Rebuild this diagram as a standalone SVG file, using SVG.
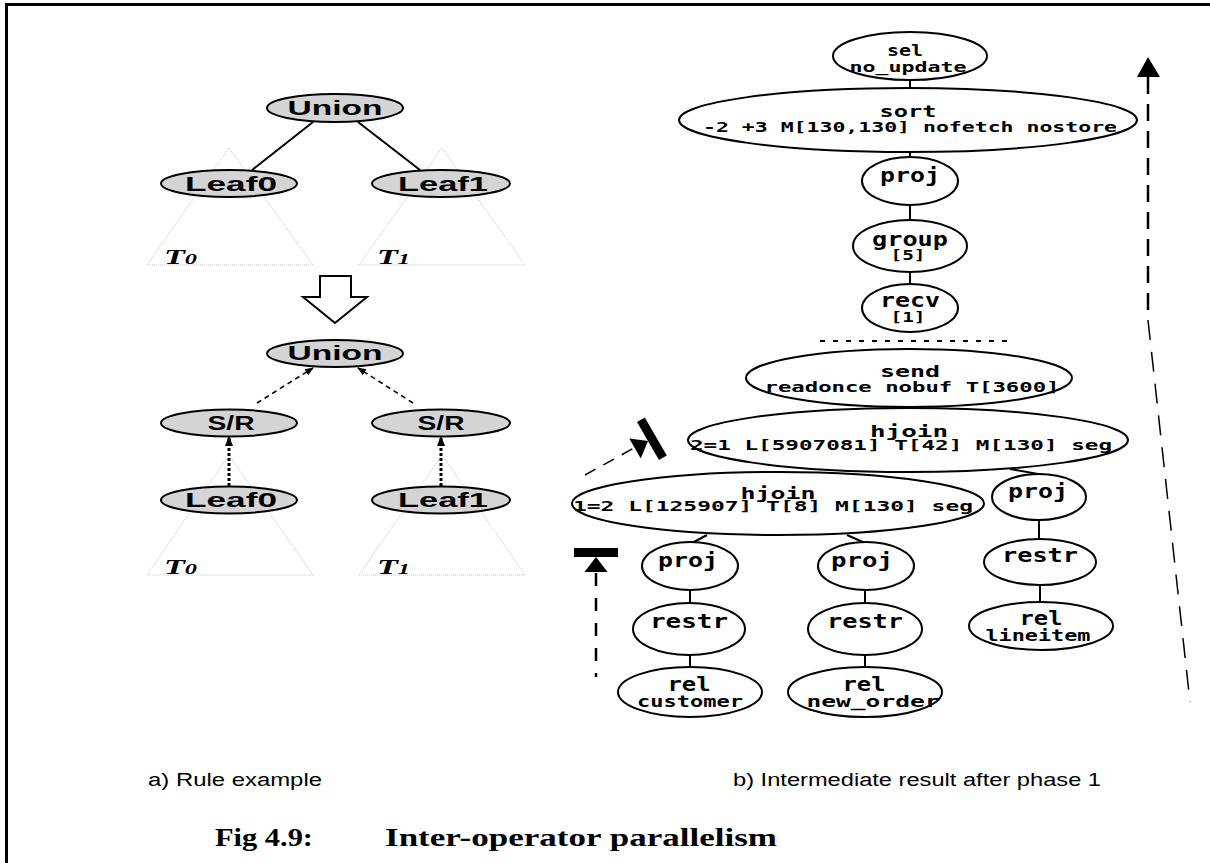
<svg xmlns="http://www.w3.org/2000/svg" xmlns:xlink="http://www.w3.org/1999/xlink" width="1210" height="863" viewBox="0 0 1210 863">
  <style>
    .frame { fill: #000; }
    .gnode { fill: #d4d4d4; stroke: #000; stroke-width: 2; }
    .glabel { font-family: "Liberation Sans", Arial, sans-serif; font-weight: bold; font-size: 21px; text-anchor: middle; fill: #000; }
    .tri { fill: none; stroke: #c8c8c8; stroke-width: 1; stroke-dasharray: 1 1; }
    .tlabel { font-family: "Liberation Serif", "Times New Roman", serif; font-weight: bold; font-style: italic; font-size: 21px; fill: #000; }
    .edge { stroke: #000; stroke-width: 2; fill: none; }
    .dash-arrow { stroke: #000; stroke-width: 1.6; stroke-dasharray: 5 4; fill: none; }
    .dot-arrow { stroke: #000; stroke-width: 3; stroke-dasharray: 3 2; fill: none; }
    .op { fill: #fff; stroke: #000; stroke-width: 2; }
    .m1 { font-family: "DejaVu Sans Mono", "Liberation Mono", monospace; font-weight: bold; font-size: 15px; text-anchor: middle; fill: #000; }
    .m2 { font-family: "DejaVu Sans Mono", "Liberation Mono", monospace; font-weight: bold; font-size: 14px; text-anchor: middle; fill: #000; }
    .mb { font-family: "DejaVu Sans Mono", "Liberation Mono", monospace; font-weight: bold; font-size: 20px; text-anchor: middle; fill: #000; }
    .caption { font-family: "Liberation Sans", Arial, sans-serif; font-size: 18px; fill: #000; }
    .title { font-family: "Liberation Serif", "Times New Roman", serif; font-weight: bold; font-size: 26px; fill: #000; }
  </style>
  <defs>
    <marker id="head" viewBox="0 0 10 10" refX="9" refY="5" markerWidth="5.5" markerHeight="5.5" orient="auto" markerUnits="strokeWidth">
      <path d="M0,1 L10,5 L0,9 Z" fill="#000"/>
    </marker>
    <marker id="head-dot" viewBox="0 0 10 10" refX="9" refY="5" markerWidth="3.4" markerHeight="3.4" orient="auto" markerUnits="strokeWidth">
      <path d="M0,1 L10,5 L0,9 Z" fill="#000"/>
    </marker>
    <!-- barrier marker: thick bar with an arrowhead pointing into it -->
    <g id="barrier">
      <rect x="-22" y="-9" width="44" height="9" fill="#000"/>
      <path d="M0,0 L-11.5,15 L11.5,15 Z" fill="#000"/>
    </g>
  </defs>

  <!-- page frame (top and left rules) -->
  <g id="frame">
    <rect class="frame" x="5" y="3" width="1205" height="3"/>
    <rect class="frame" x="5" y="3" width="3" height="860"/>
  </g>

  <!-- subtree triangles -->
  <g id="subtrees">
    <path class="tri" d="M229,148 L147,265 L313,265 Z"/>
    <path class="tri" d="M442,148 L359,265 L525,265 Z"/>
    <path class="tri" d="M229,455 L147,575 L313,575 Z"/>
    <path class="tri" d="M442,455 L359,575 L525,575 Z"/>
    <text class="tlabel" x="164" y="264" textLength="33" lengthAdjust="spacingAndGlyphs">T<tspan font-size="15">0</tspan></text>
    <text class="tlabel" x="377" y="264" textLength="33" lengthAdjust="spacingAndGlyphs">T<tspan font-size="15">1</tspan></text>
    <text class="tlabel" x="164" y="574" textLength="33" lengthAdjust="spacingAndGlyphs">T<tspan font-size="15">0</tspan></text>
    <text class="tlabel" x="377" y="574" textLength="33" lengthAdjust="spacingAndGlyphs">T<tspan font-size="15">1</tspan></text>
  </g>

  <!-- transformation arrow -->
  <g id="rewrite-arrow">
    <path d="M320,276 L351,276 L351,297 L367,297 L335,323 L303,297 L320,297 Z" fill="#fff" stroke="#000" stroke-width="2"/>
  </g>

  <g id="connectors">
    <!-- rule example, before -->
    <line class="edge" x1="313" y1="122" x2="252" y2="170"/>
    <line class="edge" x1="358" y1="122" x2="420" y2="170"/>
    <!-- rule example, after -->
    <line class="dash-arrow" x1="257" y1="403" x2="313" y2="368" marker-end="url(#head)"/>
    <line class="dash-arrow" x1="413" y1="403" x2="358" y2="368" marker-end="url(#head)"/>
    <line class="dot-arrow" x1="229" y1="486" x2="229" y2="437" marker-end="url(#head-dot)"/>
    <line class="dot-arrow" x1="441" y1="486" x2="441" y2="437" marker-end="url(#head-dot)"/>
    <!-- operator tree -->
    <line class="edge" x1="910" y1="80" x2="910" y2="88"/>
    <line class="edge" x1="910" y1="152" x2="910" y2="157"/>
    <line class="edge" x1="910" y1="205" x2="910" y2="220"/>
    <line class="edge" x1="910" y1="272" x2="910" y2="284"/>
    <line class="edge" x1="707" y1="535" x2="692" y2="543"/>
    <line class="edge" x1="847" y1="535" x2="865" y2="543"/>
    <line class="edge" x1="1010" y1="469" x2="1038" y2="474"/>
    <line class="edge" x1="690" y1="590" x2="690" y2="603"/>
    <line class="edge" x1="690" y1="655" x2="690" y2="667"/>
    <line class="edge" x1="865" y1="590" x2="865" y2="603"/>
    <line class="edge" x1="865" y1="655" x2="865" y2="667"/>
    <line class="edge" x1="1039" y1="520" x2="1039" y2="539"/>
    <line class="edge" x1="1040" y1="583" x2="1040" y2="601"/>
    <!-- process boundary -->
    <line x1="820" y1="341" x2="1015" y2="341" stroke="#000" stroke-width="2" stroke-dasharray="5 8"/>
    <!-- execution order arrows -->
    <line x1="596" y1="573" x2="596" y2="677" stroke="#000" stroke-width="2.5" stroke-dasharray="13 12"/>
    <use xlink:href="#barrier" href="#barrier" transform="translate(596,557)"/>
    <line x1="585" y1="475" x2="634" y2="448" stroke="#000" stroke-width="1.5" stroke-dasharray="12 9"/>
    <use xlink:href="#barrier" href="#barrier" transform="translate(648,441) rotate(60)"/>
    <path d="M1148,57 L1137,77 L1160,77 Z" fill="#000"/>
    <line x1="1148" y1="77" x2="1148" y2="314" stroke="#000" stroke-width="2.5" stroke-dasharray="17 10"/>
    <line x1="1148" y1="320" x2="1190" y2="702" stroke="#000" stroke-width="1.5" stroke-dasharray="20 12"/>
  </g>

  <!-- a) rule example nodes -->
  <g id="union-before"><ellipse class="gnode" cx="335" cy="108" rx="68" ry="14"/><text class="glabel" x="335" y="114.5" textLength="95" lengthAdjust="spacingAndGlyphs">Union</text></g>
  <g id="leaf0-before"><ellipse class="gnode" cx="229" cy="183.5" rx="68" ry="13.5"/><text class="glabel" x="231" y="190.5" textLength="92" lengthAdjust="spacingAndGlyphs">Leaf0</text></g>
  <g id="leaf1-before"><ellipse class="gnode" cx="441" cy="183.5" rx="69" ry="13.5"/><text class="glabel" x="443" y="190.5" textLength="90" lengthAdjust="spacingAndGlyphs">Leaf1</text></g>
  <g id="union-after"><ellipse class="gnode" cx="335" cy="353.5" rx="68" ry="13.5"/><text class="glabel" x="335" y="360" textLength="95" lengthAdjust="spacingAndGlyphs">Union</text></g>
  <g id="sr0"><ellipse class="gnode" cx="229" cy="423" rx="68" ry="13.5"/><text class="glabel" x="231" y="430" textLength="47" lengthAdjust="spacingAndGlyphs">S/R</text></g>
  <g id="sr1"><ellipse class="gnode" cx="441" cy="423" rx="69" ry="13.5"/><text class="glabel" x="441" y="430" textLength="47" lengthAdjust="spacingAndGlyphs">S/R</text></g>
  <g id="leaf0-after"><ellipse class="gnode" cx="229" cy="500" rx="68" ry="13.5"/><text class="glabel" x="231" y="507" textLength="92" lengthAdjust="spacingAndGlyphs">Leaf0</text></g>
  <g id="leaf1-after"><ellipse class="gnode" cx="441" cy="500" rx="69" ry="13.5"/><text class="glabel" x="443" y="507" textLength="90" lengthAdjust="spacingAndGlyphs">Leaf1</text></g>

  <!-- b) operator tree nodes -->
  <g id="sel"><ellipse class="op" cx="910" cy="56" rx="77" ry="24"/>
    <text class="m1" x="905" y="56" textLength="36" lengthAdjust="spacingAndGlyphs">sel</text>
    <text class="m2" x="908" y="72" textLength="117" lengthAdjust="spacingAndGlyphs">no_update</text></g>
  <g id="sort"><ellipse class="op" cx="908" cy="120" rx="229" ry="32"/>
    <text class="m1" x="908" y="117" textLength="57" lengthAdjust="spacingAndGlyphs">sort</text>
    <text class="m2" x="910" y="132" textLength="414" lengthAdjust="spacingAndGlyphs">-2 +3 M[130,130] nofetch nostore</text></g>
  <g id="proj-top"><ellipse class="op" cx="910" cy="181" rx="48" ry="24"/>
    <text class="mb" x="910" y="182" textLength="60" lengthAdjust="spacingAndGlyphs">proj</text></g>
  <g id="group"><ellipse class="op" cx="910" cy="246" rx="57" ry="26"/>
    <text class="mb" x="910" y="246" textLength="76" lengthAdjust="spacingAndGlyphs">group</text>
    <text class="m2" x="908" y="260" textLength="35" lengthAdjust="spacingAndGlyphs">[5]</text></g>
  <g id="recv"><ellipse class="op" cx="910" cy="308" rx="48" ry="24"/>
    <text class="mb" x="910" y="307" textLength="60" lengthAdjust="spacingAndGlyphs">recv</text>
    <text class="m2" x="908" y="322" textLength="35" lengthAdjust="spacingAndGlyphs">[1]</text></g>
  <g id="send"><ellipse class="op" cx="909" cy="378" rx="163" ry="29"/>
    <text class="m1" x="910" y="377" textLength="60" lengthAdjust="spacingAndGlyphs">send</text>
    <text class="m2" x="912" y="392" textLength="295" lengthAdjust="spacingAndGlyphs">readonce nobuf T[3600]</text></g>
  <g id="hjoin-outer"><ellipse class="op" cx="908" cy="440" rx="220" ry="32"/>
    <text class="m1" x="909" y="437" textLength="78" lengthAdjust="spacingAndGlyphs">hjoin</text>
    <text class="m2" x="901" y="450" textLength="422" lengthAdjust="spacingAndGlyphs">2=1 L[5907081] T[42] M[130] seg</text></g>
  <g id="hjoin-inner"><ellipse class="op" cx="778" cy="503.5" rx="206" ry="31.5"/>
    <text class="m1" x="778" y="499" textLength="75" lengthAdjust="spacingAndGlyphs">hjoin</text>
    <text class="m2" x="773" y="511" textLength="400" lengthAdjust="spacingAndGlyphs">1=2 L[125907] T[8] M[130] seg</text></g>
  <g id="proj-customer"><ellipse class="op" cx="690" cy="566" rx="48" ry="24"/>
    <text class="mb" x="688" y="567" textLength="60" lengthAdjust="spacingAndGlyphs">proj</text></g>
  <g id="proj-order"><ellipse class="op" cx="866" cy="566" rx="48" ry="24"/>
    <text class="mb" x="862" y="567" textLength="62" lengthAdjust="spacingAndGlyphs">proj</text></g>
  <g id="proj-lineitem"><ellipse class="op" cx="1039" cy="497" rx="47" ry="23"/>
    <text class="mb" x="1038" y="498" textLength="60" lengthAdjust="spacingAndGlyphs">proj</text></g>
  <g id="restr-customer"><ellipse class="op" cx="689" cy="629" rx="56" ry="26"/>
    <text class="mb" x="689" y="628" textLength="78" lengthAdjust="spacingAndGlyphs">restr</text></g>
  <g id="restr-order"><ellipse class="op" cx="865" cy="629" rx="57" ry="26"/>
    <text class="mb" x="865" y="628" textLength="76" lengthAdjust="spacingAndGlyphs">restr</text></g>
  <g id="restr-lineitem"><ellipse class="op" cx="1040" cy="562" rx="56" ry="23"/>
    <text class="mb" x="1040" y="562" textLength="76" lengthAdjust="spacingAndGlyphs">restr</text></g>
  <g id="rel-customer"><ellipse class="op" cx="690" cy="692" rx="72" ry="25"/>
    <text class="mb" x="689" y="691" font-size="19" textLength="43" lengthAdjust="spacingAndGlyphs">rel</text>
    <text class="m1" x="690" y="707" textLength="106" lengthAdjust="spacingAndGlyphs">customer</text></g>
  <g id="rel-new-order"><ellipse class="op" cx="865" cy="692" rx="77" ry="25"/>
    <text class="mb" x="864" y="691" font-size="19" textLength="43" lengthAdjust="spacingAndGlyphs">rel</text>
    <text class="m1" x="873" y="707" textLength="133" lengthAdjust="spacingAndGlyphs">new_order</text></g>
  <g id="rel-lineitem"><ellipse class="op" cx="1041" cy="626" rx="72" ry="24"/>
    <text class="mb" x="1041" y="625" font-size="19" textLength="43" lengthAdjust="spacingAndGlyphs">rel</text>
    <text class="m1" x="1038" y="641" textLength="105" lengthAdjust="spacingAndGlyphs">lineitem</text></g>

  <!-- captions -->
  <g id="captions">
    <text class="caption" x="148" y="786" textLength="174" lengthAdjust="spacingAndGlyphs">a) Rule example</text>
    <text class="caption" x="733" y="786" textLength="368" lengthAdjust="spacingAndGlyphs">b) Intermediate result after phase 1</text>
    <text class="title" x="215" y="846" textLength="98" lengthAdjust="spacingAndGlyphs">Fig 4.9:</text>
    <text class="title" x="385" y="846" textLength="392" lengthAdjust="spacingAndGlyphs">Inter-operator parallelism</text>
  </g>
</svg>
